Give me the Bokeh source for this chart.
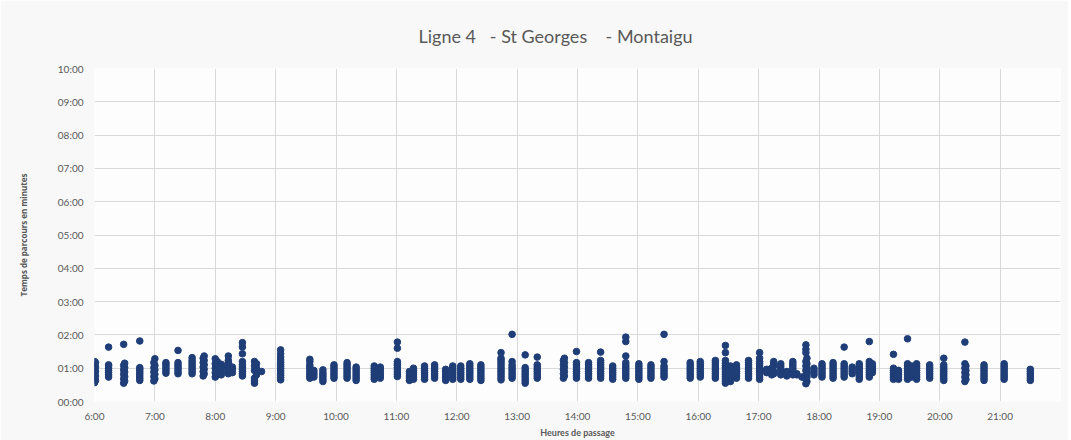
from bokeh.plotting import figure
from bokeh.models import FixedTicker, ColumnDataSource
from bokeh.embed import file_html
from bokeh.resources import INLINE

# Heure de passage (H:MM) de chaque groupe de relevés
passage = [
    "6:00", "6:01", "6:14", "6:29", "6:30", "6:45", "6:59", "7:00", "7:11", "7:23",
    "7:37", "7:48", "7:49", "8:00", "8:02", "8:06", "8:13", "8:17", "8:27", "8:39",
    "8:41", "8:46", "9:05",
    "9:34", "9:38", "9:47", "9:58", "10:11", "10:20", "10:38", "10:44", "11:01",
    "11:13", "11:17", "11:28", "11:38", "11:49", "11:56", "12:04", "12:13", "12:24",
    "12:44", "12:55", "13:08", "13:20", "13:46", "13:47", "13:59", "14:11", "14:23",
    "14:35", "14:48", "15:01", "15:13", "15:26",
    "15:52", "16:02", "16:17", "16:27", "16:32", "16:38", "16:50", "17:01", "17:08",
    "17:13", "17:15", "17:22", "17:28", "17:34", "17:38", "17:43", "17:47", "17:48",
    "17:55", "18:03", "18:14", "18:25", "18:33", "18:40", "18:50", "18:53",
    "19:14", "19:19", "19:28", "19:32", "19:37", "19:50", "20:04", "20:25", "20:26",
    "20:44", "21:04", "21:30",
]

# Temps de parcours relevés (secondes) pour chaque heure de passage
durees = [
    [34, 42, 50, 58, 66, 72], [38, 46, 54, 62, 70],
    [98, 44, 48, 52, 56, 60, 64, 66],
    [103, 33, 41, 49, 57, 65], [37, 45, 53, 61, 69],
    [109, 38, 42, 46, 50, 54, 58, 61],
    [37, 45, 53, 61, 70], [41, 49, 57, 65, 77],
    [51, 55, 59, 63, 67, 70],
    [92, 50, 54, 58, 62, 66, 70],
    [50, 54, 58, 62, 66, 70, 74, 79],
    [46, 54, 62, 70, 78], [50, 58, 66, 74, 82],
    [44, 52, 60, 68, 77], [48, 56, 64, 72],
    [48, 52, 56, 60, 64, 67],
    [50, 54, 58, 62, 66, 70, 74, 82],
    [52, 58, 62],
    [106, 98, 86, 46, 50, 54, 58, 62, 66, 72],
    [33, 37, 42, 56, 64, 72], [48, 52, 60, 68],
    [54],
    [39, 43, 47, 51, 55, 59, 63, 67, 71, 75, 80, 86, 93],
    [42, 46, 50, 54, 58, 62, 66, 72, 76],
    [44, 48, 52, 56],
    [36, 40, 44, 48, 52, 57],
    [42, 46, 50, 54, 58, 62, 66],
    [42, 46, 50, 54, 58, 62, 66, 70],
    [38, 42, 46, 50, 54, 58, 62],
    [40, 44, 48, 52, 56, 60, 64],
    [42, 46, 50, 54, 58, 62],
    [107, 96, 72, 45, 49, 53, 57, 61, 65, 68],
    [38, 42, 46, 50, 54],
    [40, 44, 48, 52, 56, 60],
    [40, 44, 48, 52, 56, 60, 64],
    [42, 46, 50, 54, 58, 62, 66],
    [38, 42, 46, 50, 54, 58],
    [40, 44, 48, 52, 56, 60, 64],
    [40, 44, 48, 52, 56, 60, 64],
    [40, 44, 48, 52, 56, 60, 64, 68],
    [38, 42, 46, 50, 54, 58, 62, 66],
    [88, 39, 43, 47, 51, 55, 59, 63, 67, 71, 75, 78],
    [121, 72, 42, 46, 50, 54, 58, 62, 66],
    [84, 33, 37, 41, 45, 49, 53, 57, 61],
    [80, 42, 46, 50, 54, 58, 62, 66],
    [42, 50, 58, 66, 74], [46, 54, 62, 70, 78],
    [90, 42, 46, 50, 54, 58, 62, 66, 70],
    [42, 46, 50, 54, 58, 62, 66, 70],
    [89, 42, 46, 50, 54, 58, 62, 66, 70, 74],
    [40, 44, 48, 52, 56, 60, 64],
    [116, 108, 82, 42, 46, 50, 54, 58, 62, 66, 70],
    [40, 44, 48, 52, 56, 60, 64, 68],
    [42, 46, 50, 54, 58, 62, 66],
    [121, 72, 44, 48, 52, 56, 60, 64],
    [42, 46, 50, 54, 58, 62, 66, 70],
    [44, 48, 52, 56, 60, 64, 68, 72],
    [42, 46, 50, 54, 58, 62, 66, 70, 74],
    [101, 88, 33, 37, 41, 45, 49, 53, 57, 61, 65, 69, 74],
    [36, 40, 44, 48, 52, 56, 60, 64],
    [42, 46, 50, 54, 58, 62, 66],
    [42, 46, 50, 54, 58, 62, 66, 70, 74],
    [88, 40, 44, 48, 52, 56, 60, 64, 68, 72, 78],
    [52, 56, 58],
    [48, 52, 56, 60],
    [50, 54, 64, 68, 72],
    [48, 52, 56, 60, 64, 68],
    [46, 50, 54],
    [48, 52, 56, 60, 64, 68, 72],
    [48, 50],
    [44],
    [102, 94, 88, 32, 40, 48, 56, 64, 72], [36, 44, 52, 60, 68, 78],
    [48, 52, 56, 60],
    [44, 48, 52, 56, 60, 64, 68],
    [42, 46, 50, 54, 58, 62, 66, 70],
    [98, 44, 48, 52, 56, 60, 64, 68],
    [50, 54, 58, 62],
    [40, 44, 48, 52, 56, 60, 64, 68],
    [108, 44, 48, 52, 56, 60, 64, 68, 72],
    [52, 56, 60, 64, 68],
    [85, 40, 44, 48, 52, 56, 60],
    [40, 44, 48, 52, 56],
    [113, 40, 44, 48, 52, 56, 60, 64, 68],
    [44, 48, 52, 56, 60, 64],
    [40, 44, 48, 52, 56, 60, 64, 68],
    [42, 46, 50, 54, 58, 62, 66],
    [78, 38, 42, 46, 50, 54, 58, 62, 66],
    [107, 36, 44, 52, 60, 68], [40, 48, 56, 64],
    [38, 42, 46, 50, 54, 58, 62, 66],
    [40, 44, 48, 52, 56, 60, 64, 68],
    [38, 42, 46, 50, 54, 58],
]

heures = list(range(6, 22))
etiquettes_x = [f"{h}:00" for h in heures]
minutes = list(range(0, 11))
etiquettes_y = [f"{m:02d}:00" for m in minutes]

xs, ys = [], []
for t, vals in zip(passage, durees):
    h, m = t.split(":")
    x = int(h) + int(m) / 60.0
    for s in vals:
        xs.append(x)
        ys.append(s / 60.0)
src = ColumnDataSource(data=dict(x=xs, y=ys))

GREY = "#595959"
p = figure(width=1068, height=440, output_backend="svg", toolbar_location=None,
           x_range=(6, 22), y_range=(0, 10),
           min_border_left=94, min_border_right=8, min_border_top=68, min_border_bottom=34,
           title="Ligne 4\u00a0\u00a0 - St Georges\u00a0\u00a0 \u00a0- Montaigu")

p.border_fill_color = "#f8f8f8"
p.background_fill_color = "#fdfdfd"
p.outline_line_color = None

p.title.align = "left"
p.title.offset = 324
p.title.text_font = "Lato"
p.title.text_font_style = "normal"
p.title.text_font_size = "18px"
p.title.text_color = GREY
p.title.standoff = 44

p.scatter("x", "y", source=src, size=6.6, fill_color="#1F3E78", line_color="#1F3E78")

p.xaxis.ticker = FixedTicker(ticks=heures)
p.xaxis.major_label_overrides = {h: l for h, l in zip(heures, etiquettes_x)}
p.yaxis.ticker = FixedTicker(ticks=minutes)
p.yaxis.major_label_overrides = {m: l for m, l in zip(minutes, etiquettes_y)}
p.xgrid.ticker = FixedTicker(ticks=list(range(6, 23)))
p.ygrid.ticker = FixedTicker(ticks=minutes)
for g in (p.xgrid, p.ygrid):
    g.grid_line_color = "#d9d9d9"
    g.grid_line_width = 1

for ax in (p.xaxis, p.yaxis):
    ax.axis_line_color = None
    ax.major_tick_line_color = None
    ax.minor_tick_line_color = None
    ax.major_tick_out = 0
    ax.major_tick_in = 0
    ax.minor_tick_out = 0
    ax.minor_tick_in = 0
    ax.major_label_text_font = "Lato"
    ax.major_label_text_font_size = "10px"
    ax.major_label_text_color = GREY
    ax.axis_label_text_color = GREY
    ax.axis_label_text_font_style = "bold"

p.xaxis.axis_label = "Heures de passage"
p.xaxis.axis_label_text_font = "Lato"
p.xaxis.axis_label_text_font_size = "9px"
p.xaxis.major_label_standoff = 8
p.xaxis.axis_label_standoff = 2

p.yaxis.axis_label = "Temps de parcours en minutes"
p.yaxis.axis_label_text_font = "Open Sans"
p.yaxis.axis_label_text_font_size = "8px"
p.yaxis.major_label_standoff = 11
p.yaxis.axis_label_standoff = 26

open("out.html", "w").write(file_html(p, INLINE))
